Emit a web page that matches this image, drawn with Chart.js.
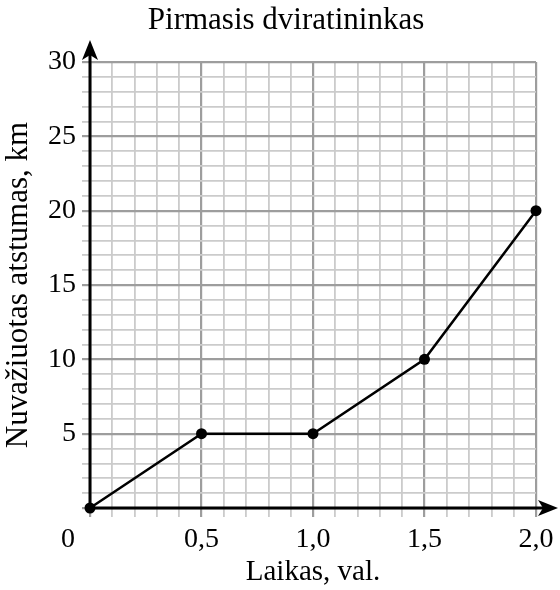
<!DOCTYPE html>
<html>
<head>
<meta charset="utf-8">
<script src="https://cdn.jsdelivr.net/npm/chart.js@4/dist/chart.umd.min.js"></script>
<style>
  html, body { margin: 0; padding: 0; background: #fff; }
  #wrap { width: 560px; height: 590px; }
</style>
</head>
<body>
<div id="wrap"><canvas id="chart"></canvas></div>
<script>
// Data
const timeHours = [0, 0.5, 1.0, 1.5, 2.0];
const distanceKm = [0, 5, 5, 10, 20];
const xMajorStep = 0.5;
const yMajorStep = 5;

const serif = "'Liberation Serif', 'Times New Roman', serif";
const gridMinor = '#cbcbcb';
const gridMajor = '#9d9d9d';

function isMajor(value, step) {
    const r = value / step;
    return Math.abs(r - Math.round(r)) < 1e-6;
}

function fmtComma(value) {
    return value.toFixed(1).replace('.', ',');
}

// Axis lines with arrow heads + the "0" at the origin
const axisArrows = {
    id: 'axisArrows',
    afterLayout(chart) {
        // nudge the title a bit to the right, like the original
        if (chart.titleBlock) chart.titleBlock.left = 36;
    },
    beforeDatasetsDraw(chart) {
        const {ctx, scales: {x, y}} = chart;
        const x0 = x.getPixelForValue(0);
        const y0 = y.getPixelForValue(0);
        const xEnd = chart.width - 2;
        const yEnd = 40;
        ctx.save();
        ctx.strokeStyle = '#000';
        ctx.fillStyle = '#000';
        ctx.lineWidth = 3;
        ctx.beginPath();
        ctx.moveTo(x0 - 1, y0);
        ctx.lineTo(xEnd - 10, y0);
        ctx.moveTo(x0, y0 + 1);
        ctx.lineTo(x0, yEnd + 10);
        ctx.stroke();
        // x arrow
        ctx.beginPath();
        ctx.moveTo(xEnd, y0);
        ctx.lineTo(xEnd - 20, y0 - 8);
        ctx.lineTo(xEnd - 15, y0);
        ctx.lineTo(xEnd - 20, y0 + 8);
        ctx.closePath();
        ctx.fill();
        // y arrow
        ctx.beginPath();
        ctx.moveTo(x0, yEnd);
        ctx.lineTo(x0 - 8, yEnd + 20);
        ctx.lineTo(x0, yEnd + 15);
        ctx.lineTo(x0 + 8, yEnd + 20);
        ctx.closePath();
        ctx.fill();
        // origin label
        ctx.font = '28px ' + serif;
        ctx.textAlign = 'center';
        ctx.textBaseline = 'middle';
        ctx.fillText('0', x0 - 22, y0 + 32);
        ctx.restore();
    }
};

const points = timeHours.map((t, i) => ({x: t, y: distanceKm[i]}));

new Chart(document.getElementById('chart'), {
    type: 'line',
    data: {
        datasets: [{
            data: points,
            borderColor: '#000',
            backgroundColor: '#000',
            borderWidth: 2.5,
            pointRadius: 5.5,
            pointBackgroundColor: '#000',
            pointBorderWidth: 0,
            tension: 0,
            clip: false
        }]
    },
    options: {
        responsive: true,
        maintainAspectRatio: false,
        animation: false,
        layout: { padding: { left: 0, right: 24, top: 0, bottom: 0 } },
        plugins: {
            legend: { display: false },
            tooltip: { enabled: false },
            title: {
                display: true,
                text: 'Pirmasis dviratininkas',
                color: '#000',
                font: { family: serif, size: 31, weight: 'normal', lineHeight: 1.2 },
                padding: { top: 2, bottom: 22.8 }
            }
        },
        scales: {
            x: {
                type: 'linear',
                min: 0,
                max: 2,
                afterFit: scale => { scale.height = 82; },
                border: { display: false },
                grid: {
                    drawTicks: true,
                    tickLength: 9,
                    color: c => isMajor(c.tick.value, xMajorStep) ? gridMajor : gridMinor,
                    lineWidth: c => isMajor(c.tick.value, xMajorStep) ? 2.2 : 1.8
                },
                ticks: {
                    stepSize: 0.1,
                    autoSkip: false,
                    maxRotation: 0,
                    color: '#000',
                    padding: 6,
                    font: { family: serif, size: 28 },
                    callback: v => (isMajor(v, xMajorStep) && v > 0) ? fmtComma(v) : ''
                },
                title: {
                    display: true,
                    text: 'Laikas, val.',
                    color: '#000',
                    font: { family: serif, size: 29 },
                    padding: { top: 0, bottom: 0 }
                }
            },
            y: {
                type: 'linear',
                min: 0,
                max: 30,
                afterFit: scale => { scale.width = 90; },
                border: { display: false },
                grid: {
                    drawTicks: true,
                    tickLength: 8,
                    color: c => isMajor(c.tick.value, yMajorStep) ? gridMajor : gridMinor,
                    lineWidth: c => isMajor(c.tick.value, yMajorStep) ? 2.2 : 1.8
                },
                ticks: {
                    stepSize: 1,
                    autoSkip: false,
                    color: '#000',
                    padding: 6,
                    font: { family: serif, size: 28 },
                    callback: v => (isMajor(v, yMajorStep) && v > 0) ? String(v) : ''
                },
                title: {
                    display: true,
                    text: 'Nuvažiuotas atstumas, km',
                    color: '#000',
                    font: { family: serif, size: 31 },
                    padding: { top: 0, bottom: 0 }
                }
            }
        }
    },
    plugins: [axisArrows]
});
</script>
</body>
</html>
